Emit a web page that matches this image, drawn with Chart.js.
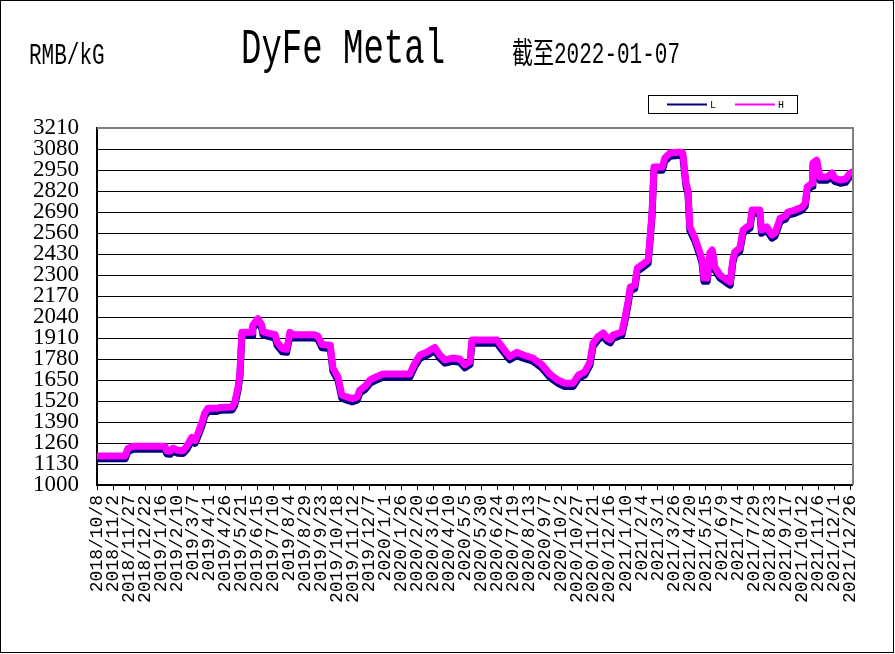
<!DOCTYPE html>
<html>
<head>
<meta charset="utf-8">
<script src="https://cdn.jsdelivr.net/npm/chart.js@4.4.1/dist/chart.umd.min.js"></script>
<style>
  html, body { margin: 0; padding: 0; background: #fff; }
  canvas { display: block; }
</style>
</head>
<body>
<canvas id="dyfe" width="895" height="654"></canvas>
<script>
// header texts
var unitLabel = 'RMB/kG';
var titleText = 'DyFe Metal';
var dateNote = '截至2022-01-07';

// first day of the axis, labels every 25 days
var startDate = [2018, 9, 8];
var dayMax = 1178;
var yTicks = [1000, 3210, 130];

// days since 2018/10/8
var days = [0, 44, 48, 56, 106, 109, 114, 119, 126, 134, 140, 148, 153, 158, 164, 168, 173, 187, 192, 211,
  215, 220, 223, 226, 242, 243, 251, 257, 259, 267, 278, 281, 289, 296, 301, 306, 340, 345, 351, 364,
  368, 376, 382, 390, 398, 406, 410, 418, 426, 437, 446, 488, 496, 504, 515, 527, 535, 543, 555, 566,
  574, 582, 585, 624, 632, 644, 655, 665, 680, 694, 707, 719, 730, 743, 751, 761, 769, 774, 782, 790,
  796, 801, 805, 819, 824, 829, 832, 839, 843, 850, 860, 863, 866, 869, 882, 886, 894, 910, 914, 919,
  922, 925, 933, 941, 944, 947, 952, 956, 960, 964, 972, 983, 988, 992, 995, 1003, 1008, 1014, 1019, 1022,
  1034, 1037, 1045, 1053, 1058, 1066, 1074, 1078, 1089, 1100, 1105, 1108, 1116, 1117, 1123, 1128, 1139, 1147, 1151, 1160,
  1168, 1175, 1178];

var highs = [1180, 1180, 1225, 1240, 1240, 1210, 1210, 1228, 1215, 1212, 1240, 1295, 1275, 1325, 1390, 1445, 1475, 1475, 1480, 1483,
  1515, 1605, 1690, 1945, 1945, 1990, 2030, 1990, 1950, 1940, 1930, 1885, 1845, 1840, 1945, 1930, 1930, 1920, 1870, 1865,
  1725, 1668, 1557, 1545, 1535, 1545, 1588, 1610, 1650, 1672, 1687, 1687, 1755, 1805, 1823, 1852, 1805, 1774, 1786, 1780,
  1745, 1765, 1898, 1898, 1855, 1795, 1822, 1805, 1786, 1745, 1685, 1650, 1630, 1630, 1680, 1700, 1760, 1879, 1920, 1941,
  1910, 1900, 1928, 1947, 2040, 2145, 2225, 2235, 2343, 2362, 2393, 2535, 2683, 2968, 2968, 3024, 3055, 3061, 3055, 2869,
  2826, 2597, 2529, 2436, 2393, 2281, 2281, 2436, 2455, 2350, 2300, 2269, 2257, 2393, 2442, 2467, 2578, 2597, 2610, 2702,
  2702, 2578, 2597, 2548, 2560, 2652, 2665, 2690, 2702, 2721, 2745, 2845, 2869, 2993, 3011, 2906, 2906, 2931, 2900, 2888,
  2894, 2931, 2937];

var lows = [1162, 1162, 1205, 1222, 1222, 1192, 1190, 1208, 1196, 1195, 1220, 1275, 1258, 1305, 1370, 1425, 1455, 1455, 1462, 1465,
  1495, 1585, 1670, 1925, 1925, 1970, 2010, 1970, 1930, 1920, 1910, 1865, 1825, 1822, 1925, 1910, 1910, 1900, 1850, 1845,
  1705, 1648, 1537, 1525, 1515, 1525, 1568, 1590, 1630, 1652, 1667, 1667, 1735, 1785, 1803, 1832, 1785, 1754, 1766, 1760,
  1725, 1745, 1878, 1878, 1835, 1775, 1802, 1785, 1766, 1725, 1665, 1630, 1610, 1610, 1660, 1680, 1740, 1859, 1900, 1921,
  1890, 1880, 1908, 1927, 2020, 2125, 2205, 2215, 2323, 2342, 2373, 2515, 2663, 2948, 2948, 3004, 3035, 3041, 3035, 2849,
  2806, 2577, 2509, 2416, 2373, 2261, 2261, 2416, 2435, 2330, 2280, 2249, 2237, 2373, 2422, 2447, 2558, 2577, 2590, 2682,
  2682, 2558, 2577, 2528, 2540, 2632, 2645, 2670, 2682, 2701, 2725, 2825, 2849, 2973, 2991, 2886, 2886, 2911, 2880, 2868,
  2874, 2911, 2917];

function dayLabel(v){
  var d = new Date(Date.UTC(startDate[0], startDate[1], startDate[2] + v));
  return d.getUTCFullYear() + '/' + (d.getUTCMonth() + 1) + '/' + d.getUTCDate();
}

function pts(vals){
  return days.map(function(d, i){ return {x: d, y: vals[i]}; });
}

function stretched(ctx, text, x, y, font, sy){
  ctx.save();
  ctx.translate(x, y);
  ctx.scale(1, sy);
  ctx.font = font;
  ctx.fillStyle = '#000';
  ctx.textBaseline = 'alphabetic';
  ctx.fillText(text, 0, 0);
  ctx.restore();
}

var decor = {
  id: 'decor',
  beforeDraw: function(chart){
    var ctx = chart.ctx;
    ctx.save();
    ctx.fillStyle = '#fff';
    ctx.fillRect(0, 0, chart.width, chart.height);
    ctx.restore();
  },
  beforeDatasetsDraw: function(chart){
    var ctx = chart.ctx, a = chart.chartArea;
    ctx.save();
    ctx.strokeStyle = '#808080';
    ctx.lineWidth = 2;
    ctx.beginPath();
    ctx.moveTo(a.left, a.top);
    ctx.lineTo(a.right + 1, a.top);
    ctx.lineTo(a.right + 1, a.bottom);
    ctx.stroke();
    ctx.restore();
  },
  afterDraw: function(chart){
    var ctx = chart.ctx;
    ctx.save();
    // outer frame
    ctx.strokeStyle = '#000';
    ctx.lineWidth = 1;
    ctx.strokeRect(0.5, 0.5, chart.width - 2, chart.height - 2);

    stretched(ctx, unitLabel, 29, 64, '21px "Liberation Mono"', 1.4);
    stretched(ctx, titleText, 241, 63, '34px "Liberation Mono"', 1.45);
    stretched(ctx, dateNote, 512, 63, '21px "Liberation Mono", "Noto Sans CJK SC"', 1.4);

    // legend box
    ctx.fillStyle = '#fff';
    ctx.fillRect(648, 95, 149, 18);
    ctx.strokeRect(648.5, 95.5, 149, 18);
    var ds = chart.data.datasets;
    var xs = [667, 735];
    ctx.font = '10px "Liberation Mono"';
    ctx.textBaseline = 'middle';
    for (var i = 0; i < ds.length; i++){
      ctx.strokeStyle = ds[i].borderColor;
      ctx.lineWidth = 2;
      ctx.beginPath();
      ctx.moveTo(xs[i], 104.5);
      ctx.lineTo(xs[i] + 40, 104.5);
      ctx.stroke();
      ctx.fillStyle = '#000';
      ctx.fillText(ds[i].label, xs[i] + 43, 105);
    }
    ctx.restore();
  }
};

new Chart(document.getElementById('dyfe'), {
  type: 'line',
  data: {
    datasets: [
      {label: 'L', data: pts(lows), borderColor: '#000080', borderWidth: 7, order: 2},
      {label: 'H', data: pts(highs), borderColor: '#FF00FF', borderWidth: 7, order: 1}
    ]
  },
  options: {
    responsive: false,
    animation: false,
    devicePixelRatio: 1,
    layout: {padding: {top: 128, right: 43, left: 0, bottom: 0}},
    elements: {
      point: {radius: 0},
      line: {tension: 0, borderJoinStyle: 'round', borderCapStyle: 'round'}
    },
    plugins: {legend: {display: false}, title: {display: false}, tooltip: {enabled: false}},
    scales: {
      x: {
        type: 'linear',
        min: 0,
        max: dayMax,
        afterFit: function(s){ s.height = 169; },
        afterBuildTicks: function(s){
          s.ticks = s.ticks.filter(function(t){ return t.value % 25 === 0; });
        },
        border: {color: '#000', width: 2},
        grid: {drawOnChartArea: false, drawTicks: true, tickLength: 5, color: '#000'},
        ticks: {
          stepSize: 25,
          includeBounds: false,
          autoSkip: false,
          minRotation: 90,
          maxRotation: 90,
          padding: 5,
          color: '#000',
          font: {family: '"Liberation Mono"', size: 18},
          callback: function(v){ return dayLabel(v); }
        }
      },
      y: {
        min: yTicks[0],
        max: yTicks[1],
        afterFit: function(s){ s.width = 97; },
        border: {color: '#000', width: 2},
        grid: {
          drawTicks: false,
          color: function(c){ return c.tick && c.tick.value === yTicks[1] ? 'rgba(0,0,0,0)' : '#000'; }
        },
        ticks: {
          stepSize: yTicks[2],
          autoSkip: false,
          padding: 18,
          color: '#000',
          font: {family: '"Liberation Serif"', size: 23},
          callback: function(v){ return String(v); }
        }
      }
    }
  },
  plugins: [decor]
});
</script>
</body>
</html>
